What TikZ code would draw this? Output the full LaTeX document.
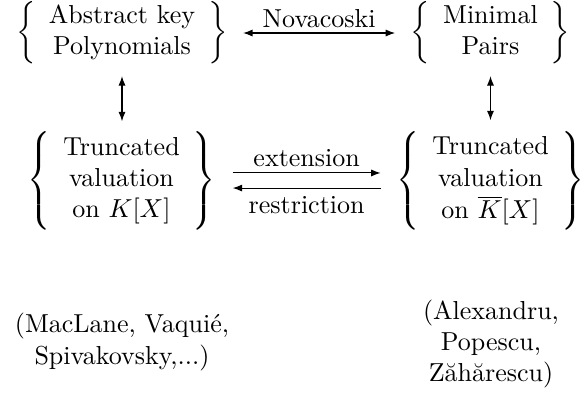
\documentclass[tikz,border=0pt]{standalone}
\usepackage{amsmath}
\usepackage{graphicx}
\usepackage{fontspec}
\usetikzlibrary{arrows.meta}
\newcommand{\lbr}{{\vcenter{\hbox{\nulldelimiterspace=0pt\scalebox{1}[1.055]{$\left\{\vcenter{\hbox{\rule{0pt}{36pt}}}\right.$}}}}}
\newcommand{\rbr}{{\vcenter{\hbox{\nulldelimiterspace=0pt\scalebox{1}[1.055]{$\left.\vcenter{\hbox{\rule{0pt}{36pt}}}\right\}$}}}}}
\tikzset{
  grp/.style={inner sep=0pt, outer sep=0pt},
  note/.style={align=center, inner sep=0pt},
  lbl/.style={inner sep=2pt},
  arr/.style={-{Latex[length=3.6pt,width=2.7pt]}},
  darr/.style={{Latex[length=3.6pt,width=2.7pt]}-{Latex[length=3.6pt,width=2.7pt]}},
}
\begin{document}
\begin{tikzpicture}[x=0.3846pt,y=-0.3846pt]
\useasboundingbox (0,0) rectangle (584,394);
\node[grp] (tl) at (122,33) {$\bigg\{\begin{array}{c}\text{Abstract key}\\ \text{Polynomials}\end{array}\bigg\}$};
\node[grp] (tr) at (490.5,33) {$\bigg\{\begin{array}{c}\text{Minimal}\\ \text{Pairs}\end{array}\bigg\}$};
\node[grp] (ml) at (121.5,180.5) {$\lbr\begin{array}{c}\text{Truncated}\\ \text{valuation}\\ \text{on } K[X]\end{array}\rbr$};
\node[grp] (mr) at (490.5,180.5) {$\lbr\begin{array}{c}\text{Truncated}\\ \text{valuation}\\ \text{on } \overline{K}[X]\end{array}\rbr$};
\node[note] (bl) at (122,342) {(MacLane, Vaquié,\\ Spivakovsky,...)};
\node[note] (br) at (491,344) {(Alexandru,\\ Popescu,\\ Zăhărescu)};
\draw[darr] ([xshift=6pt]tl.east) -- node[above,lbl] {Novacoski} ([xshift=-6pt]tr.west);
\draw[darr, shorten <=4.6pt, shorten >=3.8pt] (tl.south) -- (tl.south |- ml.north);
\draw[darr, shorten <=4.6pt, shorten >=4.2pt] (tr.south) -- (tr.south |- mr.north);
\draw[arr] ([xshift=6.5pt,yshift=2.9pt]ml.east) -- node[above,lbl] {extension} ([xshift=-6pt,yshift=2.9pt]ml.east -| mr.west);
\draw[arr] ([xshift=-6pt,yshift=-2.9pt]mr.west) -- node[below,inner sep=3pt] {restriction} ([xshift=6.5pt,yshift=-2.9pt]mr.west -| ml.east);
\end{tikzpicture}
\end{document}
